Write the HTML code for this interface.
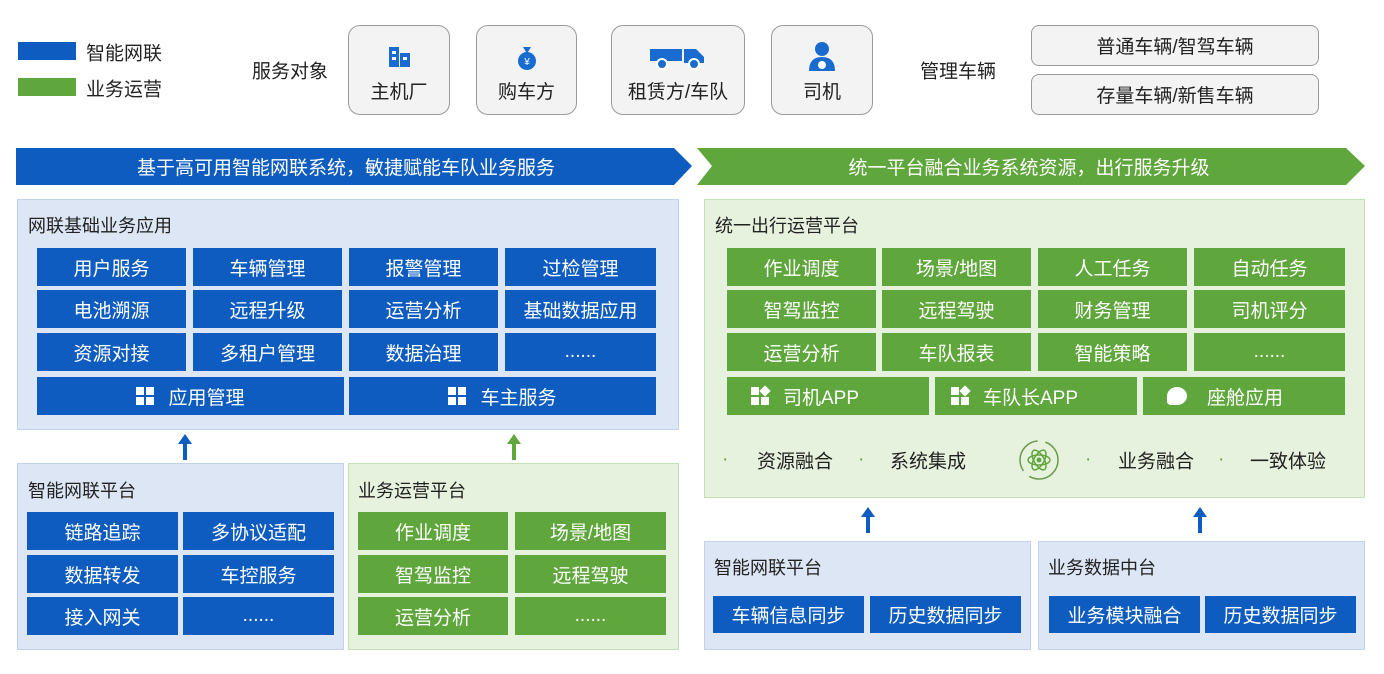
<!DOCTYPE html><html><head><meta charset="utf-8"><style>
*{margin:0;padding:0;box-sizing:border-box}
body{width:1384px;height:674px;background:#fff;position:relative;overflow:hidden;font-family:"Liberation Sans","Noto Sans CJK SC",sans-serif;color:#222}
.a{position:absolute}
.t{position:absolute;white-space:nowrap;font-size:19px;transform:translateY(-50%)}
.c{position:absolute;display:flex;align-items:center;justify-content:center;color:#fff;font-size:19px;white-space:nowrap}
.b{background:#0f5cc0}.g{background:#5fa63c}
.pb{position:absolute;background:#dce6f5;border:1px solid #c3d2ea}
.pg{position:absolute;background:#e7f2de;border:1px solid #c6e0b3}
.box{position:absolute;background:#f3f3f3;border:1.5px solid #9a9a9a;border-radius:12px;display:flex;flex-direction:column;align-items:center;justify-content:flex-end;padding-bottom:10px;font-size:19px}
.box2{position:absolute;background:#f3f3f3;border:1.5px solid #9a9a9a;border-radius:8px;display:flex;align-items:center;justify-content:center;font-size:19px}
.ar{position:absolute;width:4px;background:#0f5cc0}
.ar:before{content:"";position:absolute;left:-5px;top:-8px;border-left:7px solid transparent;border-right:7px solid transparent;border-bottom:10px solid #0f5cc0}
.arg{background:#5fa63c}.arg:before{border-bottom-color:#5fa63c}
.ic{display:inline-block;width:18px;height:18px;margin-right:14px;position:relative}
.ic i{position:absolute;width:8px;height:8px;background:#fff}
</style></head><body>
<div class="a b" style="left:18px;top:42px;width:58px;height:18px"></div>
<div class="t" style="left:86px;top:52px">智能网联</div>
<div class="a g" style="left:18px;top:78px;width:58px;height:18px"></div>
<div class="t" style="left:86px;top:88px">业务运营</div>
<div class="t" style="left:252px;top:70px">服务对象</div>
<div class="box" style="left:348px;top:25px;width:102px;height:90px"><svg width="26" height="24" style="margin-bottom:8px"><rect x="3" y="2" width="10" height="20" fill="#1a6bd0"/><rect x="14" y="8" width="10" height="14" fill="#1a6bd0"/><rect x="6" y="6" width="4" height="3" fill="#fff"/><rect x="6" y="12" width="4" height="3" fill="#fff"/><rect x="17" y="12" width="4" height="3" fill="#fff"/></svg>主机厂</div>
<div class="box" style="left:476px;top:25px;width:101px;height:90px"><svg width="26" height="26" style="margin-bottom:6px"><path d="M9 2h8l-3 5h-2z" fill="#1a6bd0"/><circle cx="13" cy="16" r="9" fill="#1a6bd0"/><text x="13" y="20" font-size="10" fill="#fff" text-anchor="middle">¥</text></svg>购车方</div>
<div class="box" style="left:611px;top:25px;width:134px;height:90px"><svg width="60" height="28" style="margin-bottom:6px"><rect x="2" y="6" width="32" height="12" fill="#1a6bd0"/><path d="M36 6h12l8 8v6H36z" fill="#1a6bd0"/><circle cx="14" cy="21" r="5" fill="#1a6bd0" stroke="#fff" stroke-width="2"/><circle cx="46" cy="21" r="5" fill="#1a6bd0" stroke="#fff" stroke-width="2"/></svg>租赁方/车队</div>
<div class="box" style="left:771px;top:25px;width:102px;height:90px"><svg width="30" height="32" style="margin-bottom:4px"><circle cx="15" cy="8" r="7" fill="#1a6bd0"/><path d="M2 30q0-14 13-14t13 14z" fill="#1a6bd0"/><circle cx="15" cy="24" r="4" fill="#fff"/></svg>司机</div>
<div class="t" style="left:920px;top:70px">管理车辆</div>
<div class="box2" style="left:1031px;top:25px;width:288px;height:41px">普通车辆/智驾车辆</div>
<div class="box2" style="left:1031px;top:74px;width:288px;height:41px">存量车辆/新售车辆</div>
<svg class="a" style="left:0;top:0" width="1384" height="200"><polygon points="16,148 674,148 692,166 674,185 16,185" fill="#0f5cc0"/><polygon points="697,148 1346,148 1365,166 1346,185 697,185 712,166" fill="#5fa63c"/></svg>
<div class="c" style="left:16px;top:148px;width:660px;height:37px;background:none">基于高可用智能网联系统，敏捷赋能车队业务服务</div>
<div class="c" style="left:712px;top:148px;width:634px;height:37px;background:none">统一平台融合业务系统资源，出行服务升级</div>

<div class="pb" style="left:17px;top:199px;width:662px;height:231px"></div>
<div class="t" style="left:28px;top:225px;font-size:18px">网联基础业务应用</div>
<div class="c b" style="left:37px;top:248px;width:149px;height:38px">用户服务</div>
<div class="c b" style="left:193px;top:248px;width:149px;height:38px">车辆管理</div>
<div class="c b" style="left:349px;top:248px;width:149px;height:38px">报警管理</div>
<div class="c b" style="left:505px;top:248px;width:151px;height:38px">过检管理</div>
<div class="c b" style="left:37px;top:290px;width:149px;height:38px">电池溯源</div>
<div class="c b" style="left:193px;top:290px;width:149px;height:38px">远程升级</div>
<div class="c b" style="left:349px;top:290px;width:149px;height:38px">运营分析</div>
<div class="c b" style="left:505px;top:290px;width:151px;height:38px">基础数据应用</div>
<div class="c b" style="left:37px;top:333px;width:149px;height:38px">资源对接</div>
<div class="c b" style="left:193px;top:333px;width:149px;height:38px">多租户管理</div>
<div class="c b" style="left:349px;top:333px;width:149px;height:38px">数据治理</div>
<div class="c b" style="left:505px;top:333px;width:151px;height:38px">......</div>
<div class="c b" style="left:37px;top:377px;width:307px;height:38px"><span class="ic"><i style="left:0;top:0"></i><i style="left:10px;top:0"></i><i style="left:0;top:10px"></i><i style="left:10px;top:10px"></i></span>应用管理</div>
<div class="c b" style="left:349px;top:377px;width:307px;height:38px"><span class="ic"><i style="left:0;top:0"></i><i style="left:10px;top:0"></i><i style="left:0;top:10px"></i><i style="left:10px;top:10px"></i></span>车主服务</div>
<div class="ar" style="left:183px;top:442px;height:18px"></div>
<div class="ar arg" style="left:512px;top:442px;height:18px"></div>

<div class="pb" style="left:17px;top:463px;width:327px;height:187px"></div>
<div class="t" style="left:28px;top:490px;font-size:18px">智能网联平台</div>
<div class="c b" style="left:27px;top:512px;width:151px;height:38px">链路追踪</div>
<div class="c b" style="left:183px;top:512px;width:151px;height:38px">多协议适配</div>
<div class="c b" style="left:27px;top:555px;width:151px;height:38px">数据转发</div>
<div class="c b" style="left:183px;top:555px;width:151px;height:38px">车控服务</div>
<div class="c b" style="left:27px;top:597px;width:151px;height:38px">接入网关</div>
<div class="c b" style="left:183px;top:597px;width:151px;height:38px">......</div>
<div class="pg" style="left:348px;top:463px;width:331px;height:187px"></div>
<div class="t" style="left:358px;top:490px;font-size:18px">业务运营平台</div>
<div class="c g" style="left:358px;top:512px;width:150px;height:38px">作业调度</div>
<div class="c g" style="left:515px;top:512px;width:151px;height:38px">场景/地图</div>
<div class="c g" style="left:358px;top:555px;width:150px;height:38px">智驾监控</div>
<div class="c g" style="left:515px;top:555px;width:151px;height:38px">远程驾驶</div>
<div class="c g" style="left:358px;top:597px;width:150px;height:38px">运营分析</div>
<div class="c g" style="left:515px;top:597px;width:151px;height:38px">......</div>

<div class="pg" style="left:704px;top:199px;width:661px;height:299px"></div>
<div class="t" style="left:715px;top:225px;font-size:18px">统一出行运营平台</div>
<div class="c g" style="left:727px;top:248px;width:149px;height:38px">作业调度</div>
<div class="c g" style="left:882px;top:248px;width:149px;height:38px">场景/地图</div>
<div class="c g" style="left:1038px;top:248px;width:149px;height:38px">人工任务</div>
<div class="c g" style="left:1194px;top:248px;width:151px;height:38px">自动任务</div>
<div class="c g" style="left:727px;top:290px;width:149px;height:38px">智驾监控</div>
<div class="c g" style="left:882px;top:290px;width:149px;height:38px">远程驾驶</div>
<div class="c g" style="left:1038px;top:290px;width:149px;height:38px">财务管理</div>
<div class="c g" style="left:1194px;top:290px;width:151px;height:38px">司机评分</div>
<div class="c g" style="left:727px;top:333px;width:149px;height:38px">运营分析</div>
<div class="c g" style="left:882px;top:333px;width:149px;height:38px">车队报表</div>
<div class="c g" style="left:1038px;top:333px;width:149px;height:38px">智能策略</div>
<div class="c g" style="left:1194px;top:333px;width:151px;height:38px">......</div>
<div class="c g" style="left:727px;top:377px;width:202px;height:38px;justify-content:flex-start;padding-left:24px"><span class="ic"><i style="left:0;top:0"></i><i style="left:10px;top:0;transform:rotate(45deg)"></i><i style="left:0;top:10px"></i><i style="left:10px;top:10px"></i></span>司机APP</div>
<div class="c g" style="left:935px;top:377px;width:202px;height:38px;justify-content:flex-start;padding-left:16px"><span class="ic"><i style="left:0;top:0"></i><i style="left:10px;top:0;transform:rotate(45deg)"></i><i style="left:0;top:10px"></i><i style="left:10px;top:10px"></i></span>车队长APP</div>
<div class="c g" style="left:1143px;top:377px;width:202px;height:38px;justify-content:flex-start;padding-left:24px"><span style="display:inline-block;width:20px;height:18px;background:#fff;border-radius:50% 50% 50% 20%;margin-right:20px"></span>座舱应用</div>
<div class="t" style="left:722px;top:460px;color:#5fa63c">·</div>
<div class="t" style="left:757px;top:460px">资源融合</div>
<div class="t" style="left:858px;top:460px;color:#5fa63c">·</div>
<div class="t" style="left:890px;top:460px">系统集成</div>
<svg class="a" style="left:1014px;top:437px" width="50" height="46"><circle cx="25" cy="23" r="19" fill="none" stroke="#6b9a4a" stroke-width="1.5" stroke-dasharray="40 8"/><ellipse cx="25" cy="23" rx="11" ry="5" fill="none" stroke="#5fa63c" stroke-width="1.5"/><ellipse cx="25" cy="23" rx="11" ry="5" fill="none" stroke="#5fa63c" stroke-width="1.5" transform="rotate(60 25 23)"/><ellipse cx="25" cy="23" rx="11" ry="5" fill="none" stroke="#5fa63c" stroke-width="1.5" transform="rotate(-60 25 23)"/><circle cx="25" cy="23" r="2.5" fill="#5fa63c"/></svg>
<div class="t" style="left:1085px;top:460px;color:#5fa63c">·</div>
<div class="t" style="left:1118px;top:460px">业务融合</div>
<div class="t" style="left:1218px;top:460px;color:#5fa63c">·</div>
<div class="t" style="left:1250px;top:460px">一致体验</div>
<div class="ar" style="left:866px;top:515px;height:18px"></div>
<div class="ar" style="left:1198px;top:515px;height:18px"></div>

<div class="pb" style="left:704px;top:541px;width:327px;height:109px"></div>
<div class="t" style="left:714px;top:567px;font-size:18px">智能网联平台</div>
<div class="c b" style="left:713px;top:596px;width:151px;height:37px">车辆信息同步</div>
<div class="c b" style="left:870px;top:596px;width:151px;height:37px">历史数据同步</div>
<div class="pb" style="left:1038px;top:541px;width:327px;height:109px"></div>
<div class="t" style="left:1048px;top:567px;font-size:18px">业务数据中台</div>
<div class="c b" style="left:1049px;top:596px;width:151px;height:37px">业务模块融合</div>
<div class="c b" style="left:1205px;top:596px;width:151px;height:37px">历史数据同步</div>
</body></html>
